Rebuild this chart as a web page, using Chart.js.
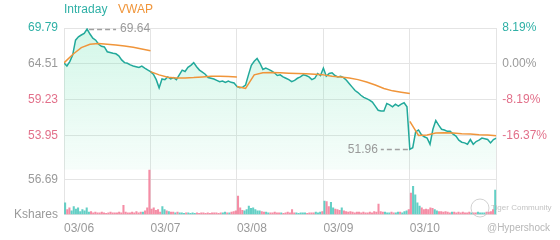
<!DOCTYPE html>
<html>
<head>
<meta charset="utf-8">
<script src="https://cdn.jsdelivr.net/npm/chart.js@4/dist/chart.umd.min.js"></script>
<style>
  html, body { margin: 0; padding: 0; background: #fff; }
  #wrap { width: 560px; height: 240px; }
</style>
</head>
<body>
<div id="wrap"><canvas id="myChart" width="560" height="240"></canvas></div>
<script>
// tick labels / categories
var days = ['03/06', '03/07', '03/08', '03/09', '03/10'];
var prevClose = 64.51;
var priceTicks = [53.95, 59.23, 64.51, 69.79];
var pctTicks = [-16.37, -8.19, 0, 8.19];
var volTicks = [0, 56.69];

// intraday price, 30 samples per day
var intraday0306 = [64.66, 64.2, 64.85, 65.8, 68.0, 68.5, 68.76, 69.0, 69.64, 68.9, 68.3, 68.0, 67.4, 67.1, 67.0, 66.3, 66.2, 66.08, 66.0, 65.7, 65.1, 64.7, 64.6, 64.36, 64.2, 64.1, 64.0, 64.2, 63.9, 63.63];
var intraday0307 = [63.38, 63.0, 62.2, 61.0, 62.3, 62.2, 62.6, 62.3, 62.5, 62.2, 62.9, 63.6, 63.4, 64.0, 64.3, 64.7, 64.1, 63.6, 63.3, 63.0, 62.5, 62.4, 62.3, 62.1, 61.9, 62.0, 61.8, 62.0, 61.8, 61.7];
var intraday0308 = [61.2, 61.0, 61.1, 61.4, 62.9, 64.3, 64.9, 65.3, 64.6, 63.7, 63.9, 63.7, 63.5, 63.2, 62.8, 62.9, 62.6, 62.4, 62.2, 61.9, 62.1, 62.4, 62.6, 62.9, 62.8, 62.6, 62.2, 62.4, 63.1, 62.8];
var intraday0309 = [63.9, 62.7, 63.1, 63.2, 62.8, 62.6, 62.7, 62.5, 62.1, 61.6, 61.1, 60.6, 60.3, 59.9, 59.6, 59.4, 59.2, 58.9, 58.3, 57.7, 57.6, 57.6, 58.7, 58.5, 58.2, 58.6, 58.3, 58.6, 58.8, 58.2];
var intraday0310 = [51.96, 52.2, 54.5, 54.8, 54.1, 53.8, 53.6, 52.7, 54.9, 56.2, 55.5, 54.9, 54.8, 54.6, 54.6, 54.2, 53.9, 53.3, 53.0, 52.9, 52.7, 53.4, 52.7, 53.1, 53.3, 53.6, 53.5, 53.4, 52.9, 53.4];
var lastPrice = 53.6;

// VWAP, 11 samples per day (open .. close)
var vwap0306 = [64.66, 65.9, 66.9, 67.4, 67.5, 67.4, 67.3, 67.15, 66.95, 66.7, 66.45];
var vwap0307 = [63.38, 62.9, 62.55, 62.45, 62.45, 62.5, 62.6, 62.7, 62.7, 62.65, 62.6];
var vwap0308 = [61.2, 60.9, 62.9, 63.2, 63.25, 63.2, 63.15, 63.1, 63.05, 63.0, 62.9];
var vwap0309 = [62.9, 62.7, 62.6, 62.45, 62.2, 61.85, 61.4, 60.9, 60.55, 60.35, 60.15];
var vwap0310 = [56.05, 54.0, 54.05, 54.35, 54.4, 54.35, 54.25, 54.2, 54.1, 54.05, 53.95];

// volume in Kshares, 40 bars per day
var vol0306 = [19, 8, 11, 6, 13, 9, 11, 5, 8, 6, 11, 4, 5, 3, 4, 3, 3, 4, 3, 2, 3, 4, 3, 3, 3, 4, 3, 15, 4, 3, 3, 4, 3, 5, 3, 4, 4, 6, 11, 84];
var vol0307 = [9, 11, 7, 8, 4, 13, 8, 6, 5, 4, 4, 3, 4, 3, 3, 2, 3, 3, 2, 3, 2, 3, 2, 3, 3, 2, 3, 2, 3, 3, 3, 2, 3, 3, 4, 3, 3, 4, 5, 6];
var vol0308 = [30, 11, 7, 6, 8, 14, 10, 11, 8, 6, 6, 5, 4, 4, 3, 3, 3, 4, 3, 3, 3, 2, 3, 4, 3, 8, 3, 3, 2, 3, 3, 3, 2, 3, 3, 3, 4, 3, 4, 5];
var vol0309 = [22, 21, 13, 20, 11, 9, 8, 7, 11, 6, 5, 4, 5, 4, 3, 4, 4, 3, 4, 3, 3, 4, 3, 5, 4, 17, 5, 4, 4, 3, 3, 4, 3, 3, 4, 4, 3, 5, 6, 8];
var vol0310 = [35, 46, 32, 19, 14, 11, 8, 9, 8, 11, 10, 8, 6, 5, 5, 4, 5, 4, 3, 4, 4, 3, 4, 3, 4, 3, 3, 4, 3, 3, 3, 4, 3, 3, 3, 4, 4, 5, 8, 40];

var intradayDays = [intraday0306, intraday0307, intraday0308, intraday0309, intraday0310];
var vwapDays = [vwap0306, vwap0307, vwap0308, vwap0309, vwap0310];
var volDays = [vol0306, vol0307, vol0308, vol0309, vol0310];

var TEAL = '#22a99b';
var TEAL_TXT = '#2fb0a6';
var PINK = '#e2708a';
var ORANGE = '#f0953a';
var GRAY = '#9a9a9a';
var GRID = '#e4e4e4';
var FONT = "'Liberation Sans', Arial, sans-serif";

Chart.defaults.font.family = FONT;
Chart.defaults.font.size = 12;
Chart.defaults.color = GRAY;

// build points
var intradayPts = [];
intradayDays.forEach(function (arr, d) {
    arr.forEach(function (v, i) {
        intradayPts.push({ x: d + i / arr.length, y: v });
    });
});
intradayPts.push({ x: days.length, y: lastPrice });

var vwapPts = [];
vwapDays.forEach(function (arr, d) {
    arr.forEach(function (v, i) {
        vwapPts.push({ x: d + i / (arr.length - 1), y: v });
    });
    if (d < vwapDays.length - 1) vwapPts.push({ x: d + 1, y: null });
});

// up/down colour of a volume bar from the price move leading into it
function priceRising(x) {
    var k = 0;
    while (k + 1 < intradayPts.length && intradayPts[k + 1].x <= x) k++;
    if (k === 0) return true;
    return intradayPts[k].y >= intradayPts[k - 1].y;
}

var volPts = [];
var volColors = [];
volDays.forEach(function (arr, d) {
    arr.forEach(function (v, i) {
        var x = d + (i + 0.5) / arr.length;
        volPts.push({ x: x, y: v });
        volColors.push(priceRising(x) ? 'rgba(60,195,182,0.8)' : 'rgba(242,112,142,0.8)');
    });
});

var maxIdx = 0, minIdx = 0;
intradayPts.forEach(function (p, i) {
    if (p.y > intradayPts[maxIdx].y) maxIdx = i;
    if (p.y < intradayPts[minIdx].y) minIdx = i;
});

// axis ranges: price panel over the volume panel
var priceMax = 69.79, priceMin = 48.96;
var priceWeight = 142, volWeight = 45;
var volMax = 72.9;
var priceAtBottom = priceMin - (priceMax - priceMin) * volWeight / priceWeight;
var pctMax = (priceMax / prevClose - 1) * 100;
var pctMin = (priceAtBottom / prevClose - 1) * 100;

function signColor(diff) {
    if (Math.abs(diff) < 1e-6) return GRAY;
    return diff > 0 ? TEAL_TXT : PINK;
}

var extrasPlugin = {
    id: 'extras',
    afterDatasetsDraw: function (chart) {
        var ctx = chart.ctx;
        var meta = chart.getDatasetMeta(0);
        var hi = meta.data[maxIdx], lo = meta.data[minIdx];
        ctx.save();
        ctx.strokeStyle = '#a0a0a0';
        ctx.lineWidth = 1.5;
        ctx.setLineDash([5, 3]);
        ctx.beginPath();
        ctx.moveTo(hi.x + 2, Math.round(hi.y) + 0.5);
        ctx.lineTo(hi.x + 29, Math.round(hi.y) + 0.5);
        ctx.moveTo(lo.x - 2, Math.round(lo.y) + 0.5);
        ctx.lineTo(lo.x - 29, Math.round(lo.y) + 0.5);
        ctx.stroke();
        ctx.setLineDash([]);
        ctx.font = '12px ' + FONT;
        ctx.fillStyle = GRAY;
        ctx.textBaseline = 'middle';
        ctx.textAlign = 'left';
        ctx.fillText(intradayPts[maxIdx].y.toFixed(2), hi.x + 33, hi.y);
        ctx.textAlign = 'right';
        ctx.fillText(intradayPts[minIdx].y.toFixed(2), lo.x - 32, lo.y);
        ctx.restore();
    },
    afterDraw: function (chart) {
        var ctx = chart.ctx;
        var left = chart.chartArea.left;
        ctx.save();
        ctx.font = '12px ' + FONT;
        ctx.textBaseline = 'middle';
        ctx.textAlign = 'left';
        ctx.fillStyle = TEAL_TXT;
        ctx.fillText('Intraday', left, 10);
        ctx.fillStyle = ORANGE;
        ctx.fillText('VWAP', left + 54, 10);
        // watermark
        ctx.strokeStyle = 'rgba(190,190,190,0.7)';
        ctx.lineWidth = 1;
        ctx.beginPath();
        ctx.arc(480, 208, 9, 0, Math.PI * 2);
        ctx.stroke();
        ctx.font = '8px ' + FONT;
        ctx.fillStyle = 'rgba(180,180,180,0.8)';
        ctx.fillText('Tiger Community', 491, 208);
        ctx.font = '10px ' + FONT;
        ctx.fillStyle = 'rgba(175,175,175,0.9)';
        ctx.fillText('@Hypershock', 487, 228);
        ctx.restore();
    }
};

var ctx = document.getElementById('myChart').getContext('2d');
var myChart = new Chart(ctx, {
    type: 'line',
    data: {
        datasets: [{
            label: 'Intraday',
            data: intradayPts,
            yAxisID: 'y',
            borderColor: TEAL,
            borderWidth: 1.5,
            pointRadius: 0,
            tension: 0,
            fill: 'start',
            backgroundColor: function (context) {
                var chart = context.chart;
                var ys = chart.scales.y;
                if (!chart.chartArea || !ys || !isFinite(ys.top) || !isFinite(ys.bottom)) {
                    return 'rgba(120,225,185,0.15)';
                }
                var g = chart.ctx.createLinearGradient(0, ys.top, 0, ys.bottom);
                g.addColorStop(0, 'rgba(110,228,180,0.30)');
                g.addColorStop(1, 'rgba(110,228,180,0.06)');
                return g;
            },
            order: 1
        }, {
            label: 'VWAP',
            data: vwapPts,
            yAxisID: 'y',
            borderColor: ORANGE,
            borderWidth: 1.5,
            pointRadius: 0,
            spanGaps: false,
            fill: false,
            order: 0
        }, {
            type: 'bar',
            label: 'Volume',
            data: volPts,
            yAxisID: 'vol',
            backgroundColor: volColors,
            barThickness: 1.4,
            order: 2
        }]
    },
    options: {
        responsive: false,
        animation: false,
        devicePixelRatio: 1,
        layout: { padding: { left: 8, right: 7, top: 28, bottom: -3 } },
        plugins: {
            legend: { display: false },
            tooltip: { enabled: false }
        },
        scales: {
            x: {
                type: 'linear',
                min: 0,
                max: days.length,
                offset: false,
                afterBuildTicks: function (s) {
                    s.ticks = [0, 1, 2, 3, 4, 5].map(function (v) { return { value: v }; });
                },
                ticks: {
                    align: 'start',
                    padding: 7,
                    maxRotation: 0,
                    autoSkip: false,
                    callback: function (v) { return days[v] || ''; }
                },
                grid: { color: GRID, drawTicks: false, offset: false },
                border: { color: GRID }
            },
            y: {
                type: 'linear',
                position: 'left',
                stack: 'left',
                stackWeight: priceWeight,
                weight: 2,
                min: priceMin,
                max: priceMax,
                afterBuildTicks: function (s) {
                    s.ticks = priceTicks.map(function (v) { return { value: v }; });
                },
                ticks: {
                    padding: 6,
                    color: function (c) { return signColor(c.tick.value - prevClose); },
                    callback: function (v) { return v.toFixed(2); }
                },
                grid: { color: GRID, drawTicks: false },
                border: { color: GRID }
            },
            vol: {
                type: 'linear',
                position: 'left',
                stack: 'left',
                stackWeight: volWeight,
                weight: 1,
                min: 0,
                max: volMax,
                afterBuildTicks: function (s) {
                    s.ticks = volTicks.map(function (v) { return { value: v }; });
                },
                ticks: {
                    padding: 6,
                    callback: function (v) { return v === 0 ? 'Kshares' : v.toFixed(2); }
                },
                grid: { color: GRID, drawTicks: false },
                border: { color: GRID }
            },
            pct: {
                type: 'linear',
                position: 'right',
                min: pctMin,
                max: pctMax,
                afterBuildTicks: function (s) {
                    s.ticks = pctTicks.map(function (v) { return { value: v }; });
                },
                ticks: {
                    padding: 6,
                    color: function (c) { return signColor(c.tick.value); },
                    callback: function (v) { return v.toFixed(2) + '%'; }
                },
                grid: { display: false, drawTicks: false },
                border: { display: false }
            }
        }
    },
    plugins: [extrasPlugin]
});
</script>
</body>
</html>
